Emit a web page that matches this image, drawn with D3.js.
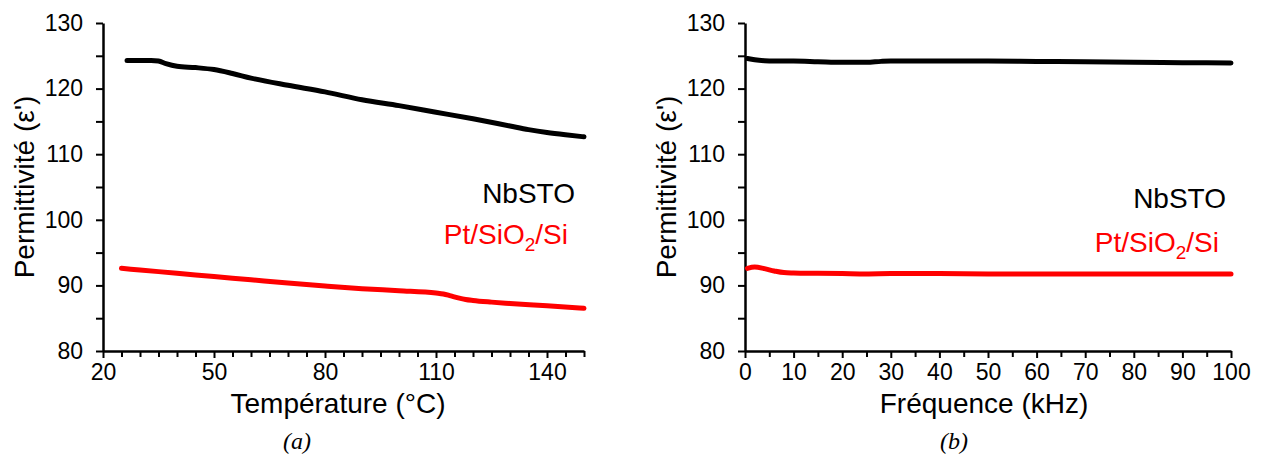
<!DOCTYPE html>
<html>
<head>
<meta charset="utf-8">
<script src="https://cdn.jsdelivr.net/npm/d3@7"></script>
<style>
  html, body { margin: 0; padding: 0; background: #fff; }
  svg { display: block; }
</style>
</head>
<body>
<svg id="chart" width="1266" height="456"></svg>
<script>
// ---- Data ----
const tempNbSTO_T = [26.5, 30, 33, 35, 37, 40, 45, 50, 55, 60, 70, 80, 90, 100, 110, 120, 130, 135, 140, 145, 150];
const tempNbSTO_E = [124.3, 124.3, 124.3, 124.2, 123.8, 123.4, 123.2, 122.9, 122.3, 121.6, 120.5, 119.5, 118.3, 117.4, 116.4, 115.4, 114.3, 113.75, 113.3, 112.95, 112.65];
const tempPt_T = [25, 30, 40, 50, 60, 70, 80, 90, 100, 110, 112, 114, 116, 118, 120, 125, 130, 140, 150];
const tempPt_E = [92.6, 92.35, 91.85, 91.35, 90.85, 90.35, 89.9, 89.5, 89.2, 88.85, 88.7, 88.4, 88.1, 87.85, 87.7, 87.45, 87.25, 86.9, 86.5];

const freqNbSTO_F = [0.5, 2, 4, 6, 10, 15, 20, 25, 28, 30, 40, 50, 60, 70, 80, 90, 100];
const freqNbSTO_E = [124.6, 124.4, 124.25, 124.2, 124.2, 124.1, 124.0, 124.0, 124.15, 124.2, 124.2, 124.2, 124.15, 124.1, 124.0, 123.95, 123.9];
const freqPt_F = [0.5, 2, 4, 6, 8, 10, 15, 20, 25, 30, 40, 50, 60, 70, 80, 90, 100];
const freqPt_E = [92.6, 92.8, 92.55, 92.2, 91.95, 91.9, 91.85, 91.8, 91.75, 91.8, 91.8, 91.75, 91.75, 91.75, 91.75, 91.75, 91.75];

const yTicks = [80, 90, 100, 110, 120, 130];
const yMinor = [85, 95, 105, 115, 125];
const tempTicks = [20, 50, 80, 110, 140];
const freqTicks = [0, 10, 20, 30, 40, 50, 60, 70, 80, 90, 100];

const yTitle = "Permittivité (ε')";
const seriesNames = ["NbSTO", "Pt/SiO", "2", "/Si"];

const SANS = "'Liberation Sans', Arial, sans-serif";
const SERIF = "'Liberation Serif', 'Times New Roman', serif";

const svg = d3.select("#chart");
svg.append("rect").attr("width", 1266).attr("height", 456).attr("fill", "#fff");

function panel(cfg) {
  const x = d3.scaleLinear().domain(cfg.xDomain).range([cfg.left, cfg.right]);
  const y = d3.scaleLinear().domain([80, 130]).range([351, 23]);
  const g = svg.append("g").style("font-family", SANS);

  // minor x ticks
  g.append("g").attr("transform", "translate(0,351)")
    .call(d3.axisBottom(x).tickValues(cfg.xMinor).tickSize(6).tickFormat(""))
    .call(a => a.select(".domain").remove())
    .call(a => a.selectAll("line").attr("stroke", "#000").attr("stroke-width", 2));
  // major x
  g.append("g").attr("transform", "translate(0,351)")
    .call(d3.axisBottom(x).tickValues(cfg.xTicks).tickSize(7).tickSizeOuter(0).tickPadding(6))
    .call(a => a.select(".domain").attr("stroke", "#000").attr("stroke-width", 2.5))
    .call(a => a.selectAll("line").attr("stroke", "#000").attr("stroke-width", 2))
    .call(a => a.selectAll("text").attr("fill", "#000")
      .style("font-size", "23px").style("font-family", SANS));

  // minor y
  g.append("g").attr("transform", `translate(${cfg.left},0)`)
    .call(d3.axisLeft(y).tickValues(yMinor).tickSize(7).tickFormat(""))
    .call(a => a.select(".domain").remove())
    .call(a => a.selectAll("line").attr("stroke", "#000").attr("stroke-width", 2));
  // major y
  g.append("g").attr("transform", `translate(${cfg.left},0)`)
    .call(d3.axisLeft(y).tickValues(yTicks).tickSize(7).tickSizeOuter(0).tickPadding(13))
    .call(a => a.select(".domain").attr("stroke", "#000").attr("stroke-width", 2.5))
    .call(a => a.selectAll("line").attr("stroke", "#000").attr("stroke-width", 2))
    .call(a => a.selectAll("text").attr("fill", "#000")
      .style("font-size", "23px").style("font-family", SANS));

  const line = d3.line().x(d => x(d[0])).y(d => y(d[1])).curve(d3.curveMonotoneX);
  g.append("path").datum(d3.zip(cfg.blackX, cfg.blackY))
    .attr("d", line).attr("fill", "none").attr("stroke", "#000")
    .attr("stroke-width", 5).attr("stroke-linecap", "round").attr("stroke-linejoin", "round");
  g.append("path").datum(d3.zip(cfg.redX, cfg.redY))
    .attr("d", line).attr("fill", "none").attr("stroke", "#ff0000")
    .attr("stroke-width", 5).attr("stroke-linecap", "round").attr("stroke-linejoin", "round");

  // y title
  g.append("text")
    .attr("transform", `translate(${cfg.left - 69},187) rotate(-90)`)
    .attr("text-anchor", "middle").style("font-size", "28px").attr("fill", "#000")
    .text(yTitle);
  // x title
  g.append("text").attr("x", cfg.titleX).attr("y", 413)
    .attr("text-anchor", "middle").style("font-size", "28px").attr("fill", "#000")
    .text(cfg.xTitle);
  // panel label
  g.append("text").attr("x", cfg.labelX).attr("y", 449)
    .attr("text-anchor", "middle").style("font-size", "24px")
    .style("font-style", "italic").style("font-family", SERIF)
    .attr("fill", "#000").text(cfg.label);

  // legend texts
  g.append("text").attr("x", cfg.legX1).attr("y", cfg.legY1)
    .attr("text-anchor", "end").style("font-size", "28px").attr("fill", "#000")
    .text(seriesNames[0]);
  const t = g.append("text").attr("x", cfg.legX2).attr("y", cfg.legY2)
    .attr("text-anchor", "end").style("font-size", "28px").attr("fill", "#ff0000");
  t.append("tspan").text(seriesNames[1]);
  t.append("tspan").style("font-size", "19px").attr("dy", 7).text(seriesNames[2]);
  t.append("tspan").attr("dy", -7).text(seriesNames[3]);
}

panel({
  left: 103, right: 584, xDomain: [20, 150],
  xTicks: tempTicks, xMinor: d3.range(25, 151, 5).filter(v => (v - 20) % 30 !== 0),
  blackX: tempNbSTO_T, blackY: tempNbSTO_E, redX: tempPt_T, redY: tempPt_E,
  xTitle: "Température (°C)", titleX: 338, label: "(a)", labelX: 297,
  legX1: 575, legY1: 203, legX2: 568, legY2: 244
});
panel({
  left: 745, right: 1231, xDomain: [0, 100],
  xTicks: freqTicks, xMinor: d3.range(5, 100, 10),
  blackX: freqNbSTO_F, blackY: freqNbSTO_E, redX: freqPt_F, redY: freqPt_E,
  xTitle: "Fréquence (kHz)", titleX: 984, label: "(b)", labelX: 954,
  legX1: 1226, legY1: 208, legX2: 1219, legY2: 252
});
</script>
</body>
</html>
